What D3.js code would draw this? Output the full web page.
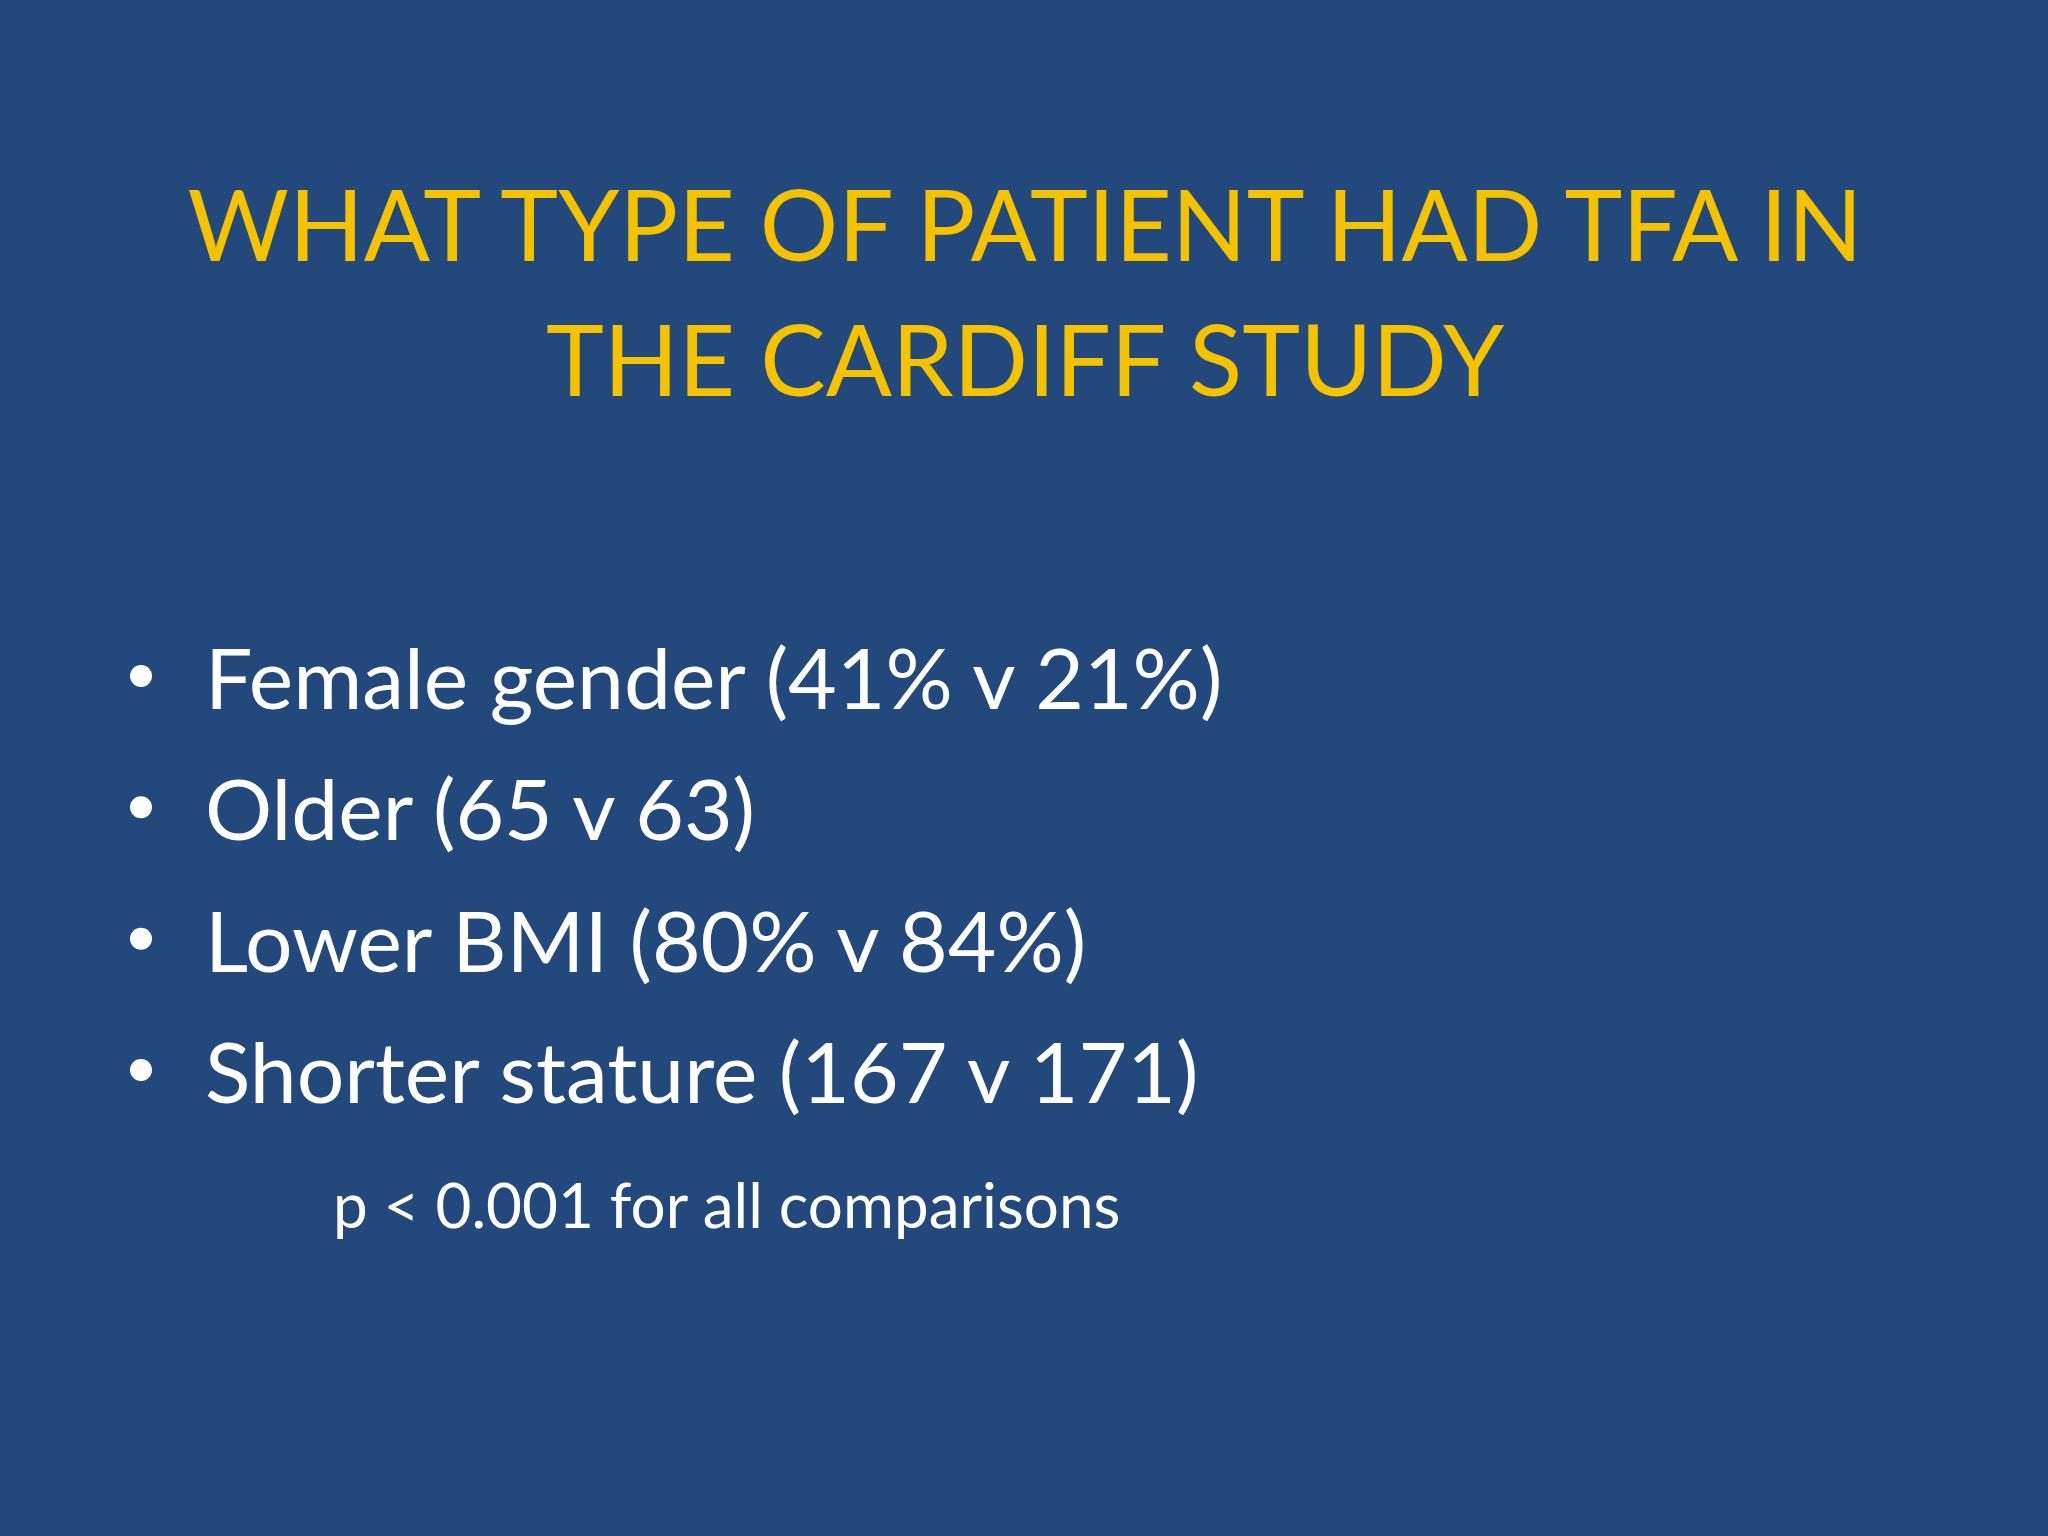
<!DOCTYPE html>
<html>
<head>
<meta charset="utf-8">
<script src="https://cdn.jsdelivr.net/npm/d3@7"></script>
<style>
  html, body { margin: 0; height: 100%; background: #22487c; }
  svg { display: block; }
</style>
</head>
<body>
<script>
var titleLines = ["WHAT TYPE OF PATIENT HAD TFA IN", "THE CARDIFF STUDY"];
var bullets = ["Female gender (41% v 21%)", "Older (65 v 63)", "Lower BMI (80% v 84%)", "Shorter stature (167 v 171)"];
var footnote = "p < 0.001 for all comparisons";

var W = 2048, H = 1536;
var font = "Lato, 'Open Sans', sans-serif";

var svg = d3.select("body").append("svg")
    .attr("width", W).attr("height", H);

svg.append("rect").attr("width", W).attr("height", H).attr("fill", "#22487c");

// title
var ty = d3.scalePoint().domain(d3.range(titleLines.length)).range([261, 396]);
svg.selectAll("text.title").data(titleLines).enter().append("text")
    .attr("class", "title")
    .attr("x", 1025)
    .attr("y", function(d, i) { return ty(i); })
    .attr("text-anchor", "middle")
    .attr("fill", "#f5c200")
    .attr("font-family", font)
    .attr("font-size", 98)
    .text(function(d) { return d; });

// bullets
var by = d3.scalePoint().domain(d3.range(bullets.length)).range([709, 1103]);
var g = svg.selectAll("g.bullet").data(bullets).enter().append("g")
    .attr("class", "bullet")
    .attr("transform", function(d, i) { return "translate(0," + by(i) + ")"; });

g.append("circle")
    .attr("cx", 141).attr("cy", -33).attr("r", 11)
    .attr("fill", "#ffffff");

g.append("text")
    .attr("x", 205)
    .attr("fill", "#ffffff")
    .attr("font-family", font)
    .attr("font-size", 84)
    .text(function(d) { return d; });

svg.append("text")
    .attr("x", 333).attr("y", 1228)
    .attr("fill", "#ffffff")
    .attr("font-family", font)
    .attr("font-size", 62)
    .text(footnote);
</script>
</body>
</html>
